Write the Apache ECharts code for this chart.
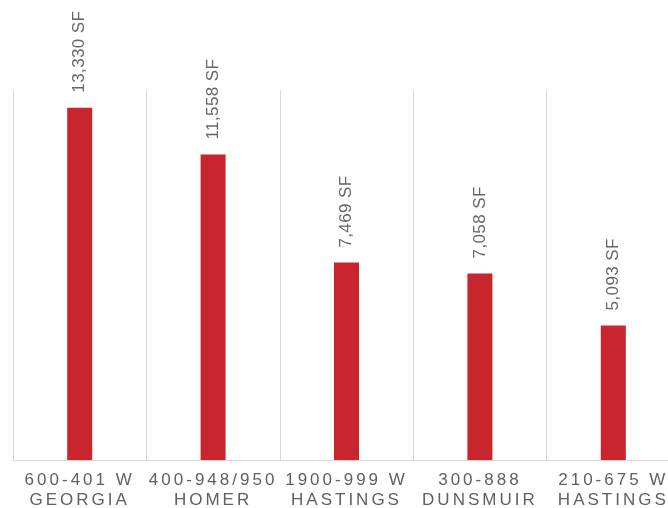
<!DOCTYPE html>
<html>
<head>
<meta charset="utf-8">
<script src="https://cdn.jsdelivr.net/npm/echarts@6/dist/echarts.min.js"></script>
<style>html,body{margin:0;padding:0;background:#fff}#c{width:668px;height:508px}</style>
</head>
<body>
<div id="c"></div>
<script>
// Letter spacing to mimic the reference text style (axis labels are widely spaced)
(function(){
  var d = Object.getOwnPropertyDescriptor(CanvasRenderingContext2D.prototype, 'font');
  if (d && d.set && ('letterSpacing' in CanvasRenderingContext2D.prototype)) {
    Object.defineProperty(CanvasRenderingContext2D.prototype, 'font', {
      configurable: true,
      get: function(){ return d.get.call(this); },
      set: function(v){
        d.set.call(this, v);
        this.letterSpacing = (String(v).indexOf('Arial') >= 0) ? '3px' : '0.4px';
      }
    });
  }
})();

var categories = ['600-401 W\nGEORGIA', '400-948/950\nHOMER', '1900-999 W\nHASTINGS', '300-888\nDUNSMUIR', '210-675 W\nHASTINGS'];
var areaSF = [13330, 11558, 7469, 7058, 5093];
var yMax = 14000;

var chart = echarts.init(document.getElementById('c'), null, {renderer: 'canvas'});
chart.setOption({
  animation: false,
  grid: {left: 13, top: 90, width: 667, height: 370, containLabel: false, outerBoundsMode: 'none'},
  xAxis: {
    type: 'category',
    data: categories,
    boundaryGap: true,
    axisLine: {show: true, lineStyle: {color: '#d9d9d9', width: 1}},
    axisTick: {show: false},
    splitLine: {show: true, lineStyle: {color: '#d9d9d9', width: 1}},
    axisLabel: {
      interval: 0, margin: 10, color: '#5f5f5f', fontSize: 17,
      fontFamily: 'Arial', lineHeight: 20, hideOverlap: false
    }
  },
  yAxis: {type: 'value', min: 0, max: yMax, show: false, splitLine: {show: false}},
  series: [{
    type: 'bar',
    data: areaSF,
    barWidth: 25,
    itemStyle: {color: '#C8252D'},
    label: {
      show: true, position: 'top', rotate: 90, distance: 15,
      align: 'left', verticalAlign: 'middle',
      color: '#666666', fontSize: 17, fontFamily: 'Liberation Sans, sans-serif',
      formatter: function(p){ return p.value.toLocaleString('en-US') + ' SF'; }
    }
  }]
});
</script>
</body>
</html>
